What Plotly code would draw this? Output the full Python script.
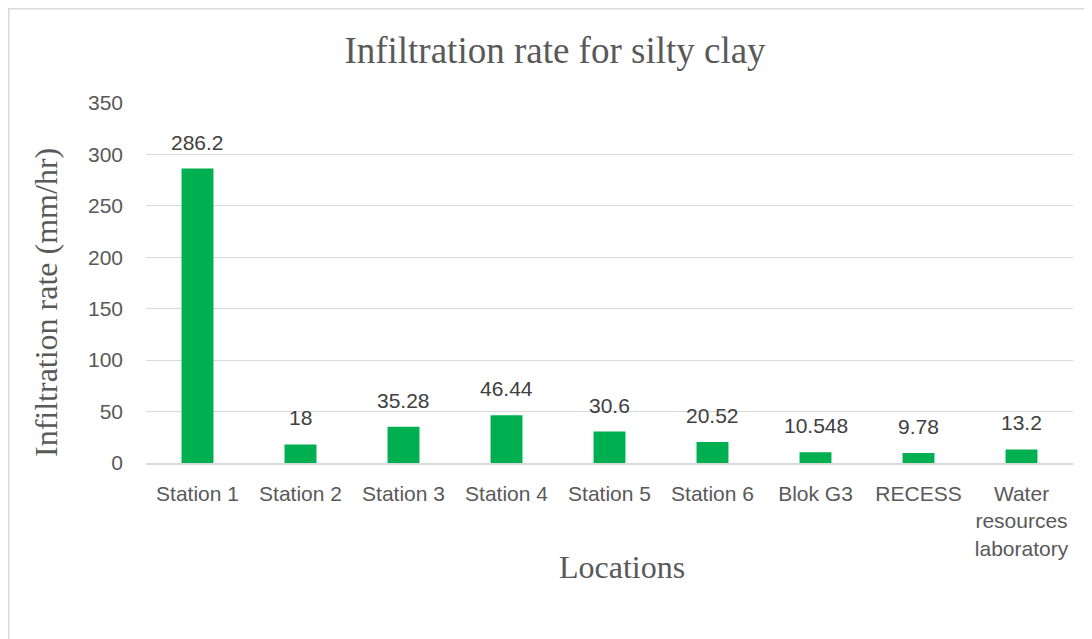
import plotly.graph_objects as go

categories = ["Station 1", "Station 2", "Station 3", "Station 4", "Station 5",
              "Station 6", "Blok G3", "RECESS", "Water<br>resources<br>laboratory"]
values = [286.2, 18, 35.28, 46.44, 30.6, 20.52, 10.548, 9.78, 13.2]
value_labels = ["286.2", "18", "35.28", "46.44", "30.6", "20.52", "10.548", "9.78", "13.2"]
y_ticks = [0, 50, 100, 150, 200, 250, 300, 350]

# page body has an 8px default margin; figure coordinates below are relative to the figure
W, H = 1092, 639
L, R, T, B = 138, 27, 95, 184
pw, ph = W - L - R, H - T - B

SANS = "Liberation Sans, Arial"
SERIF = "Liberation Serif, Times New Roman"

def px_x(p):
    return (p - L) / pw

def px_y(p):
    return (H - B - p) / ph

fig = go.Figure()
fig.add_trace(go.Bar(x=categories, y=values, marker=dict(color="#00B050", line=dict(width=0)),
                     hoverinfo="x+y"))

for c, v, s in zip(categories, values, value_labels):
    fig.add_annotation(x=c, y=v, text=s, showarrow=False, yanchor="bottom", yshift=13,
                       font=dict(family=SANS, size=21, color="#404040"))

fig.add_annotation(xref="paper", yref="paper", x=px_x(38), y=px_y(295),
                   text="Infiltration rate (mm/hr)", textangle=-90, showarrow=False,
                   xanchor="center", yanchor="middle",
                   font=dict(family=SERIF, size=32, color="#595959"))
fig.add_annotation(xref="paper", yref="paper", x=px_x(614), y=px_y(559),
                   text="Locations", showarrow=False, xanchor="center", yanchor="middle",
                   font=dict(family=SERIF, size=32, color="#595959"))

fig.add_shape(type="rect", xref="paper", yref="paper",
              x0=px_x(0.75), x1=px_x(1110), y0=px_y(660), y1=px_y(0.75),
              line=dict(color="#D9D9D9", width=1.5), fillcolor="rgba(0,0,0,0)", layer="below")

fig.update_layout(
    width=W, height=H,
    margin=dict(l=L, r=R, t=T, b=B),
    paper_bgcolor="white", plot_bgcolor="white",
    bargap=0.69,
    showlegend=False,
    title=dict(text="Infiltration rate for silty clay", x=547 / W, xanchor="center",
               y=1 - 42 / H, yanchor="middle",
               font=dict(family=SERIF, size=37, color="#595959")),
    xaxis=dict(
        tickfont=dict(family=SANS, size=21, color="#595959"),
        showline=True, linecolor="#D9D9D9", linewidth=1.5,
        ticks="", showgrid=False, ticklabelstandoff=11,
    ),
    yaxis=dict(
        range=[0, 350], tickvals=y_ticks,
        tickfont=dict(family=SANS, size=21, color="#595959"),
        gridcolor="#D9D9D9", gridwidth=1.3, zeroline=False,
        ticks="", ticklabelstandoff=22,
    ),
)

fig.write_html("out.html")
